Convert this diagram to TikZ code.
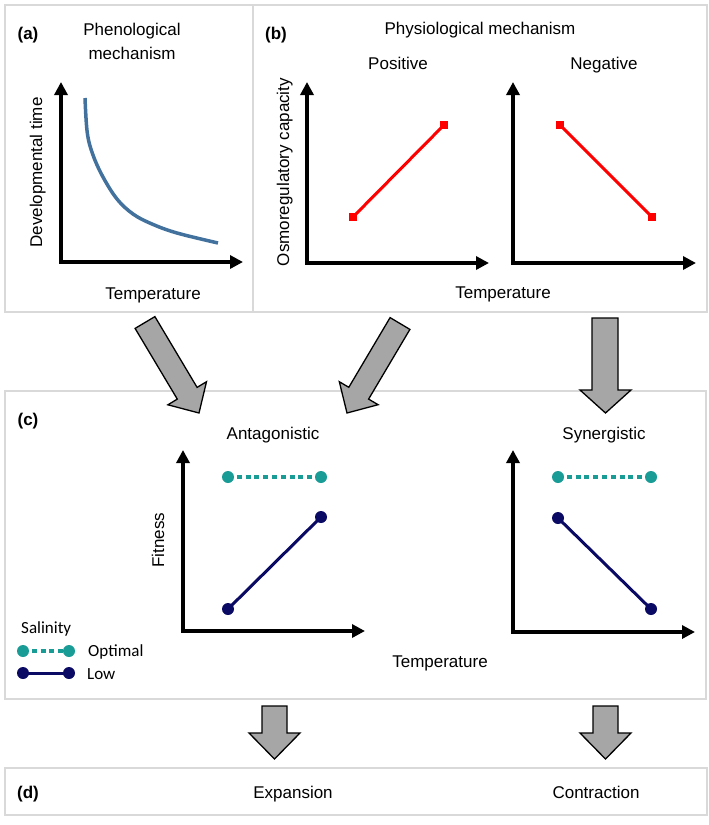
\documentclass[tikz,border=0pt]{standalone}
\usepackage{fontspec}
\setmainfont{Liberation Sans}
\newfontfamily\legendfont{Carlito}
\usetikzlibrary{arrows.meta}
\definecolor{boxgray}{RGB}{217,217,217}
\definecolor{arrowgray}{RGB}{166,166,166}
\definecolor{curveblue}{RGB}{65,113,156}
\definecolor{tealc}{RGB}{26,156,150}
\definecolor{navyc}{RGB}{10,10,100}
\definecolor{redc}{RGB}{255,0,0}
\tikzset{
  panel/.style={draw=boxgray, line width=2pt},
  axis/.style={line width=4pt, line join=miter, {Triangle[length=13pt,width=13pt]}-{Triangle[length=13pt,width=13pt]}},
  txt/.style={font=\fontsize{17}{24}\selectfont, inner sep=0pt, anchor=base},
  lbl/.style={font=\fontsize{17}{20}\selectfont\bfseries, inner sep=0pt, anchor=base},
  leg/.style={font=\fontsize{17}{20}\selectfont\legendfont, inner sep=0pt, anchor=base west},
  blockarrow/.style={fill=arrowgray, draw=black, line width=1.3pt, line join=miter},
  redsq/.style={rectangle, fill=redc, minimum size=8pt, inner sep=0pt},
  reddata/.style={draw=redc, line width=3pt},
  tdot/.style={circle, fill=tealc, minimum size=12pt, inner sep=0pt},
  ndot/.style={circle, fill=navyc, minimum size=12pt, inner sep=0pt},
  tline/.style={draw=tealc, line width=3.5pt, dash pattern=on 5pt off 3.8pt},
  nline/.style={draw=navyc, line width=3pt},
}
\begin{document}
\begin{tikzpicture}[x=1pt,y=-1pt]
\useasboundingbox (0,0) rectangle (709,825);
% panels
\draw[panel] (5,5) rectangle (253,312);
\draw[panel] (253,5) rectangle (707,312);
\draw[panel] (5,391) rectangle (706,699);
\draw[panel] (5,768) rectangle (707,815);

% ---------- (a)
\node[lbl] (la) at (28,39) {(a)};
\node[txt] (ta1) at (132,35) {Phenological};
\node[txt] (ta2) at (132,59) {mechanism};
\coordinate (ay) at (61,82);
\coordinate (ao) at (61,262);
\coordinate (ax) at (243,262);
\draw[axis] (ay) -- (ao) -- (ax);
\node[txt, rotate=90] (ylab) at (42,172.5) {Developmental time};
\node[txt] (xlaba) at (153,299) {Temperature};
\draw[curveblue, line width=3.5pt] plot[smooth, tension=0.6] coordinates {(85,98) (87.3,133) (93,155) (103,177) (117,199) (133,214) (152,224) (177,233) (218,243)};

% ---------- (b)
\node[lbl] (lb) at (276,39) {(b)};
\node[txt] (tb) at (480,34) {Physiological mechanism};
\node[txt] (pos) at (398,69) {Positive};
\node[txt] (neg) at (604,69) {Negative};
\coordinate (by1) at (307,82);
\coordinate (bo1) at (307,263);
\coordinate (bx1) at (489,263);
\draw[axis] (by1) -- (bo1) -- (bx1);
\coordinate (by2) at (513,82);
\coordinate (bo2) at (513,263);
\coordinate (bx2) at (696,263);
\draw[axis] (by2) -- (bo2) -- (bx2);
\node[txt, rotate=90] (ylabb) at (289,172) {Osmoregulatory capacity};
\node[txt] (xlabb) at (503,298) {Temperature};
\node[redsq] (p1) at (353,217) {};
\node[redsq] (p2) at (444,125) {};
\draw[reddata] (p1.center) -- (p2.center);
\node[redsq] (n1) at (560,125) {};
\node[redsq] (n2) at (652,217) {};
\draw[reddata] (n1.center) -- (n2.center);

% ---------- block arrows (b)->(c)
\draw[blockarrow] (154.9,316.6) -- (197.1,387.4) -- (206.5,381.7) -- (199,413) -- (167.9,404.8) -- (177.3,399.1) -- (135.1,328.4) -- cycle;
\draw[blockarrow] (390.1,317.6) -- (348.8,387.3) -- (339.3,381.7) -- (347,413) -- (378.1,404.7) -- (368.6,399.1) -- (409.9,329.4) -- cycle;
\draw[blockarrow] (592,318) -- (592,390) -- (580,390) -- (605.5,413) -- (631,390) -- (618,390) -- (618,318) -- cycle;

% ---------- (c)
\node[lbl] (lc) at (28,425) {(c)};
\node[txt] (ant) at (273,439) {Antagonistic};
\node[txt] (syn) at (604,439) {Synergistic};
\coordinate (cy1) at (183,450);
\coordinate (co1) at (183,631);
\coordinate (cx1) at (365,631);
\draw[axis] (cy1) -- (co1) -- (cx1);
\coordinate (cy2) at (513,450);
\coordinate (co2) at (513,632);
\coordinate (cx2) at (695,632);
\draw[axis] (cy2) -- (co2) -- (cx2);
\node[txt, rotate=90] (fit) at (164,540) {Fitness};
\node[txt] (xlabc) at (440,667) {Temperature};
% antagonistic
\node[tdot] (ao1) at (228,477) {};
\node[tdot] (ao2) at (321,477) {};
\draw[tline] (ao1.center) -- (ao2.center);
\node[ndot] (al1) at (228,609) {};
\node[ndot] (al2) at (321,517) {};
\draw[nline] (al1.center) -- (al2.center);
% synergistic
\node[tdot] (so1) at (558,477) {};
\node[tdot] (so2) at (651,477) {};
\draw[tline] (so1.center) -- (so2.center);
\node[ndot] (sl1) at (558,518) {};
\node[ndot] (sl2) at (651,609) {};
\draw[nline] (sl1.center) -- (sl2.center);
% legend
\node[leg] (sal) at (21,633) {Salinity};
\node[tdot] (lg1) at (23,651) {};
\node[tdot] (lg2) at (69,651) {};
\draw[tline] (lg1.center) -- (lg2.center);
\node[leg] (opt) at (88,656) {Optimal};
\node[ndot] (lg3) at (23,673) {};
\node[ndot] (lg4) at (69,673) {};
\draw[nline] (lg3.center) -- (lg4.center);
\node[leg] (low) at (87,679) {Low};

% ---------- block arrows (c)->(d)
\draw[blockarrow] (262,706) -- (262,733) -- (249,733) -- (274.5,759) -- (300,733) -- (287,733) -- (287,706) -- cycle;
\draw[blockarrow] (593,706) -- (593,733) -- (580,733) -- (605.5,759) -- (631,733) -- (618,733) -- (618,706) -- cycle;

% ---------- (d)
\node[lbl] (ld) at (28,798) {(d)};
\node[txt] (exp) at (293,798) {Expansion};
\node[txt] (con) at (596,798) {Contraction};
\end{tikzpicture}
\end{document}
